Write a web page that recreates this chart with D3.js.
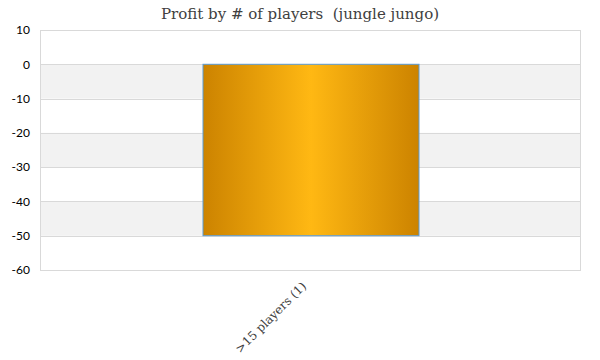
<!DOCTYPE html>
<html><head><meta charset="utf-8">
<script src="https://cdn.jsdelivr.net/npm/d3@7/dist/d3.min.js"></script>
<style>body{margin:0;background:#fff}</style>
</head><body>
<svg id="c" width="600" height="360"></svg>
<script>
const categories = [">15 players (1)"];
const profits = [-50];
const yTicks = [10, 0, -10, -20, -30, -40, -50, -60];
const title = "Profit by # of players  (jungle jungo)";

const svg = d3.select("#c");
const m = {l: 40, r: 580, t: 30, b: 270};
const x = d3.scaleBand().domain(categories).range([m.l, m.r]).paddingInner(0.6).paddingOuter(0.3);
const y = d3.scaleLinear().domain([-60, 10]).range([m.b, m.t]);

const defs = svg.append("defs");
const g = defs.append("linearGradient").attr("id", "bg").attr("x1", "0%").attr("x2", "100%").attr("y1", "0%").attr("y2", "0%");
g.append("stop").attr("offset", "0%").attr("stop-color", "#cc8300");
g.append("stop").attr("offset", "50%").attr("stop-color", "#ffb813");
g.append("stop").attr("offset", "100%").attr("stop-color", "#cc8300");

// bands
for (let i = 0; i < yTicks.length - 1; i++) {
  const a = yTicks[i], b = yTicks[i + 1];
  if (i % 2 === 1) {
    svg.append("rect").attr("x", m.l).attr("width", m.r - m.l)
      .attr("y", y(a)).attr("height", y(b) - y(a)).attr("fill", "#f2f2f2");
  }
}
// gridlines
svg.append("g").selectAll("line").data(yTicks).join("line")
  .attr("x1", m.l).attr("x2", m.r).attr("y1", d => Math.round(y(d)) + 0.5).attr("y2", d => Math.round(y(d)) + 0.5)
  .attr("stroke", "#d9d9d9").attr("stroke-width", 1);
svg.append("rect").attr("x", m.l + 0.5).attr("y", y(10) + 0.5).attr("width", m.r - m.l).attr("height", y(-60) - y(10))
  .attr("fill", "none").attr("stroke", "#d9d9d9");

// y axis
const ya = svg.append("g").attr("transform", `translate(${m.l - 10},0)`)
  .call(d3.axisLeft(y).tickValues(yTicks).tickFormat(d => String(d)).tickSize(0).tickPadding(0));
ya.select(".domain").remove();
ya.selectAll("text").attr("font-family", "Lato, 'Open Sans', sans-serif").attr("font-size", 12).attr("fill", "#000");

// bars
svg.selectAll("rect.bar").data(categories).join("rect").attr("class", "bar")
  .attr("x", d => x(d) + 1).attr("width", x.bandwidth())
  .attr("y", (d, i) => y(Math.max(0, profits[i])))
  .attr("height", (d, i) => Math.abs(y(profits[i]) - y(0)))
  .attr("fill", "url(#bg)").attr("stroke", "#5b9bd5").attr("stroke-width", 1);

// x axis labels
const xa = svg.append("g").attr("transform", `translate(0,${m.b})`)
  .call(d3.axisBottom(x).tickSize(0).tickPadding(0));
xa.select(".domain").remove();
xa.selectAll("text")
  .attr("font-family", "Georgia, 'DejaVu Serif', serif").attr("font-size", 12).attr("fill", "#404040")
  .attr("text-anchor", "end").attr("dy", "0.35em")
  .attr("transform", "translate(-6,14) rotate(-45)");

svg.append("text").attr("x", 300).attr("y", 19).attr("text-anchor", "middle")
  .style("white-space", "pre")
  .attr("font-family", "Georgia, 'DejaVu Serif', 'Liberation Serif', serif").attr("font-size", 15).attr("fill", "#404040")
  .text(title);
</script>
</body></html>
